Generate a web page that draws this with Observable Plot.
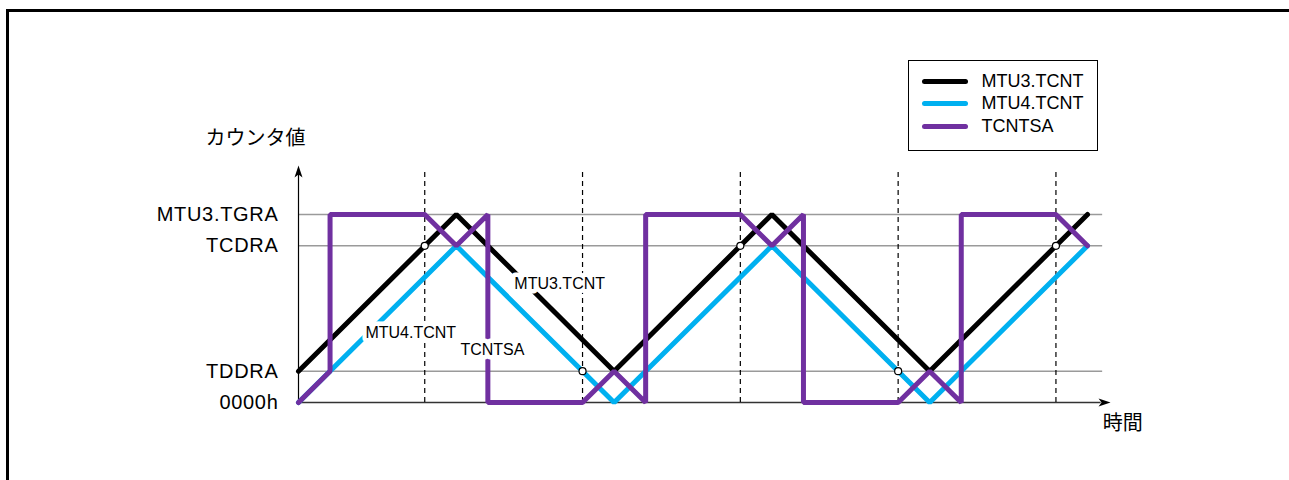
<!DOCTYPE html>
<html><head><meta charset="utf-8">
<script src="https://cdn.jsdelivr.net/npm/d3@7"></script>
<script src="https://cdn.jsdelivr.net/npm/@observablehq/plot@0.6"></script>
<style>
html,body{margin:0;padding:0;background:#fff;overflow:hidden}
#wrap{position:relative;width:1289px;height:480px;overflow:hidden;font-family:"Liberation Sans",Arial,"Noto Sans CJK JP",sans-serif}
#topbar{position:absolute;left:6px;top:9px;width:1283px;height:3px;background:#000}
#leftbar{position:absolute;left:6px;top:9px;width:3px;height:471px;background:#000}
#legend{position:absolute;left:908px;top:60px;width:190px;height:91px;border:1.5px solid #000;box-sizing:border-box;background:#fff}
.item{position:absolute;left:12.5px;height:22px;display:flex;align-items:center;font-size:18px;white-space:nowrap}
.sw{width:46px;height:5px;border-radius:3px;margin-right:14px}
svg{position:absolute;left:0;top:0}
g[aria-label="y-axis tick label"] text{letter-spacing:0.7px}
</style></head><body><div id="wrap"><div id="topbar"></div><div id="leftbar"></div></div>
<script>
// ---- data ----
const levelNames = ["0000h", "TDDRA", "TCDRA", "MTU3.TGRA"];
const levelValues = [0, 1, 5, 6];
const mtu3Time = [0, 5, 10, 15, 20, 25];
const mtu3Value = [1, 6, 1, 6, 1, 6];
const mtu4Time = [0, 5, 10, 15, 20, 25];
const mtu4Value = [0, 5, 0, 5, 0, 5];
const tcntsaTime = [0, 1, 1, 4, 5, 6, 6, 9, 10, 11, 11, 14, 15, 16, 16, 19, 20, 21, 21, 24, 25];
const tcntsaValue = [0, 1, 6, 6, 5, 6, 0, 0, 1, 0, 6, 6, 5, 6, 0, 0, 1, 0, 6, 6, 5];
const markerTime = [4, 9, 14, 19, 24];
const markerValue = [5, 1, 5, 1, 5];
const seriesNames = ["MTU3.TCNT", "MTU4.TCNT", "TCNTSA"];
const seriesColors = ["#000000", "#00B0F0", "#7030A0"];
const yTitle = "カウンタ値";
const xTitle = "時間";

// ---- layout constants (data units) ----
const gridEnd = 25.48, xAxisEnd = 25.73, yAxisTop = 7.56, dashTop = 7.34;
const inlineLabels = [
  {t: 6.84, v: 3.80, text: seriesNames[0]},
  {t: 2.12, v: 2.23, text: seriesNames[1]},
  {t: 5.13, v: 1.69, text: seriesNames[2]}
];
const titles = [
  {t: -2.95, v: 8.43, text: yTitle},
  {t: 25.48, v: -0.67, text: xTitle}
];

const toRows = (ts, vs) => ts.map((t, i) => ({t, v: vs[i]}));
const mtu3 = toRows(mtu3Time, mtu3Value);
const mtu4 = toRows(mtu4Time, mtu4Value);
const tcntsa = toRows(tcntsaTime, tcntsaValue);
const markers = toRows(markerTime, markerValue);

const stealth = {
  draw(ctx) {
    ctx.moveTo(0, 0);
    ctx.lineTo(-4, 12);
    ctx.lineTo(0, 9);
    ctx.lineTo(4, 12);
    ctx.closePath();
  }
};

const lineOpts = {x: "t", y: "v", strokeWidth: 5, strokeLinejoin: "miter", strokeLinecap: "round"};

const chart = Plot.plot({
  width: 1289,
  height: 480,
  marginLeft: 298,
  marginRight: 202,
  marginTop: 214,
  marginBottom: 78,
  x: {domain: [0, 25], axis: null},
  y: {domain: [0, 6]},
  style: {fontFamily: '"Liberation Sans", Arial, "Noto Sans CJK JP", sans-serif', fontSize: "16px", background: "transparent", overflow: "visible"},
  marks: [
    Plot.ruleY(levelValues.slice(1), {x1: 0, x2: gridEnd, stroke: "#9a9a9a", strokeWidth: 1.5}),
    Plot.ruleY([0], {x1: 0, x2: xAxisEnd - 0.3, stroke: "#333", strokeWidth: 1.5}),
    Plot.ruleX([0], {y1: 0, y2: yAxisTop - 0.2, stroke: "#000", strokeWidth: 1.2}),
    Plot.ruleX(markerTime, {y1: 0, y2: dashTop, stroke: "#000", strokeWidth: 1.2, strokeDasharray: "5,4"}),
    Plot.line(mtu3, {...lineOpts, stroke: seriesColors[0]}),
    Plot.line(mtu4, {...lineOpts, stroke: seriesColors[1]}),
    Plot.line(tcntsa, {...lineOpts, stroke: seriesColors[2]}),
    Plot.text(inlineLabels, {x: "t", y: "v", text: "text", textAnchor: "start", fill: "#000", stroke: "white", strokeWidth: 9, paintOrder: "stroke", fontSize: 16}),
    Plot.dot(markers, {x: "t", y: "v", r: 3.5, fill: "white", stroke: "#000", strokeWidth: 1.2}),
    Plot.dot([{t: 0, v: yAxisTop}], {x: "t", y: "v", symbol: stealth, fill: "#000", stroke: "none", rotate: 0}),
    Plot.dot([{t: xAxisEnd, v: 0}], {x: "t", y: "v", symbol: stealth, fill: "#000", stroke: "none", rotate: 90}),
    Plot.text(titles, {x: "t", y: "v", text: "text", textAnchor: "start", fill: "#000", fontSize: 20}),
    Plot.axisY({ticks: levelValues, tickFormat: d => levelNames[levelValues.indexOf(d)], tickSize: 0, tickPadding: 20, fontSize: 20, label: null})
  ]
});

const wrap = document.getElementById("wrap");
wrap.insertBefore(chart, wrap.firstChild);

// legend
const legend = document.createElement("div");
legend.id = "legend";
const tops = [9.5, 31.5, 54.5];
seriesNames.forEach((name, i) => {
  const it = document.createElement("div");
  it.className = "item";
  it.style.top = tops[i] + "px";
  const sw = document.createElement("div");
  sw.className = "sw";
  sw.style.background = seriesColors[i];
  const tx = document.createElement("span");
  tx.textContent = name;
  it.appendChild(sw);
  it.appendChild(tx);
  legend.appendChild(it);
});
wrap.appendChild(legend);
</script></body></html>
